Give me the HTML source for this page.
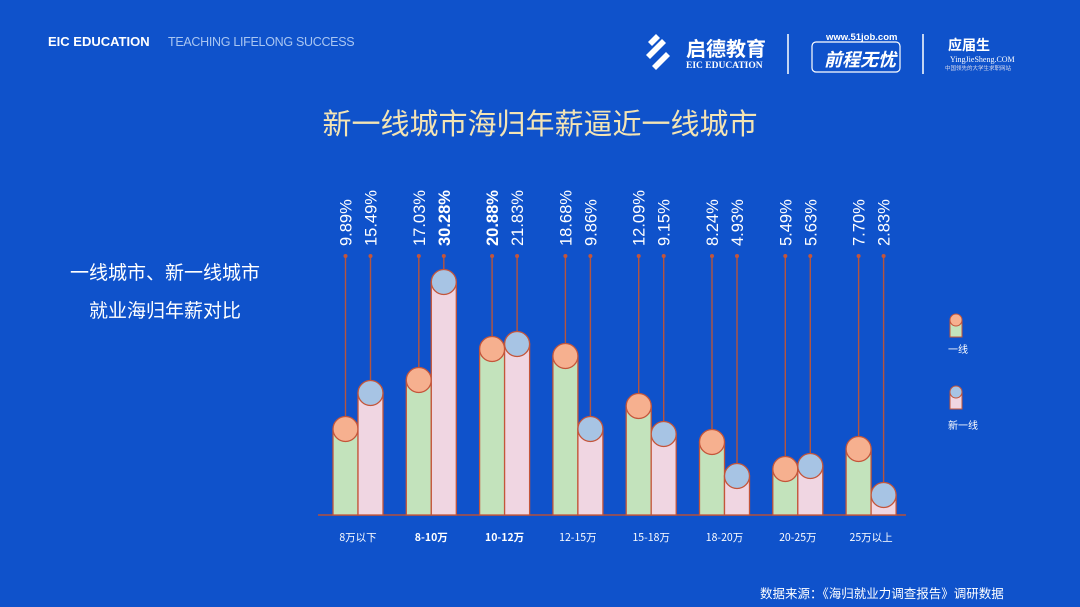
<!DOCTYPE html>
<html><head><meta charset="utf-8"><style>
html,body{margin:0;padding:0;}
body{width:1080px;height:607px;background:#0f52cb;overflow:hidden;font-family:"Liberation Sans","Noto Sans CJK SC",sans-serif;}
</style></head><body>
<svg width="1080" height="607" xmlns="http://www.w3.org/2000/svg" style="position:absolute;left:0;top:0">
<rect width="1080" height="607" fill="#0f52cb"/>
<text x="48" y="46" font-family="Liberation Sans, sans-serif" font-weight="bold" font-size="13" fill="#fff">EIC EDUCATION</text>
<text x="168" y="46" font-family="Liberation Sans, sans-serif" font-size="12.5" fill="#a9c6f2" letter-spacing="-0.3">TEACHING LIFELONG SUCCESS</text>
<g fill="#fff">
<path d="M648 42 l8-8 4 4-8 8z M646 55 l16-16 4 4-16 16z M652 66 l14-14 4 4-14 14z"/>
<text x="686" y="56" font-family="Noto Sans CJK SC, sans-serif" font-size="20" font-weight="bold">启德教育</text>
<text x="686" y="68" font-family="Liberation Serif, serif" font-size="9.5" font-weight="bold">EIC EDUCATION</text>
</g>
<line x1="788" y1="34" x2="788" y2="74" stroke="#fff" stroke-width="1.5"/>
<rect x="812" y="42" width="88" height="30" rx="4" fill="none" stroke="#fff" stroke-width="1.2"/>
<text x="826" y="40" font-size="9.5" font-weight="bold" fill="#fff">www.51job.com</text>
<text x="824" y="66" font-family="Noto Sans CJK SC, sans-serif" font-size="18" font-weight="bold" font-style="italic" fill="#fff">前程无忧</text>
<line x1="923" y1="34" x2="923" y2="74" stroke="#fff" stroke-width="1.5"/>
<text x="948" y="50" font-family="Noto Sans CJK SC, sans-serif" font-size="14" font-weight="bold" fill="#fff">应届生</text>
<text x="950" y="62" font-family="Liberation Serif, serif" font-size="8" fill="#fff">YingJieSheng.COM</text>
<text x="945" y="70" font-family="Noto Sans CJK SC, sans-serif" font-size="5.5" fill="#dde">中国领先的大学生求职网站</text>
<text x="540" y="134" text-anchor="middle" font-family="Noto Sans CJK SC, sans-serif" font-size="29" fill="#f3e4b4">新一线城市海归年薪逼近一线城市</text>
<text x="165" y="279" text-anchor="middle" font-family="Noto Sans CJK SC, sans-serif" font-size="19" fill="#fff">一线城市、新一线城市</text>
<text x="165" y="317" text-anchor="middle" font-family="Noto Sans CJK SC, sans-serif" font-size="19" fill="#fff">就业海归年薪对比</text>
<line x1="318" y1="515" x2="906" y2="515" stroke="#b5503a" stroke-width="1.5"/>
<g id="bars" stroke="#c4553a" stroke-width="1.3"></g>
<g id="labels"></g>
<rect x="950" y="321" width="12" height="16" fill="#c3e3bc" stroke="#c4553a"/>
<circle cx="956" cy="320" r="6" fill="#f6b08f" stroke="#c4553a"/>
<text x="948" y="353" font-family="Noto Sans CJK SC, sans-serif" font-size="10" fill="#fff">一线</text>
<rect x="950" y="393" width="12" height="16" fill="#f0d6e2" stroke="#c4553a"/>
<circle cx="956" cy="392" r="6" fill="#a7c4e4" stroke="#c4553a"/>
<text x="948" y="429" font-family="Noto Sans CJK SC, sans-serif" font-size="10" fill="#fff">新一线</text>
<text x="760" y="598" font-family="Noto Sans CJK SC, sans-serif" font-size="12.5" fill="#fff">数据来源：《海归就业力调查报告》调研数据</text>
</svg>
<script>
var g=[[429,393],[380,282],[349,344],[356,429],[406,434],[442,476],[469,466],[449,495]];
var lab=[["9.89%","15.49%"],["17.03%","30.28%"],["20.88%","21.83%"],["18.68%","9.86%"],["12.09%","9.15%"],["8.24%","4.93%"],["5.49%","5.63%"],["7.70%","2.83%"]];
var bold=[[0,0],[0,1],[1,0],[0,0],[0,0],[0,0],[0,0],[0,0]];
var cats=["8万以下","8-10万","10-12万","12-15万","15-18万","18-20万","20-25万","25万以上"];
var s="",l="";
for(var i=0;i<8;i++){var c=358+i*73.3;
 for(var j=0;j<2;j++){var x=c-25+j*25,cx=x+12.5,y=g[i][j];
  s+='<line x1="'+cx+'" y1="256" x2="'+cx+'" y2="'+y+'" stroke="#b4553f" stroke-width="1.4"/>';
  s+='<circle cx="'+cx+'" cy="256" r="2" fill="#c4553a" stroke="none"/>';
  s+='<rect x="'+x+'" y="'+y+'" width="25" height="'+(515-y)+'" fill="'+(j?'#f0d6e2':'#c3e3bc')+'"/>';
  s+='<circle cx="'+cx+'" cy="'+y+'" r="12.5" fill="'+(j?'#a7c4e4':'#f6b08f')+'"/>';
  l+='<text transform="translate('+(cx+6)+',246) rotate(-90)" font-size="16.5" fill="#fff" font-weight="'+(bold[i][j]?'bold':'normal')+'">'+lab[i][j]+'</text>';
 }
 l+='<text x="'+c+'" y="541" text-anchor="middle" font-family="Noto Sans CJK SC, sans-serif" font-size="10.5" fill="#fff" font-weight="'+((i==1||i==2)?'bold':'normal')+'">'+cats[i]+'</text>';
}
document.getElementById("bars").innerHTML=s;
document.getElementById("labels").innerHTML=l;
</script>
</body></html>
